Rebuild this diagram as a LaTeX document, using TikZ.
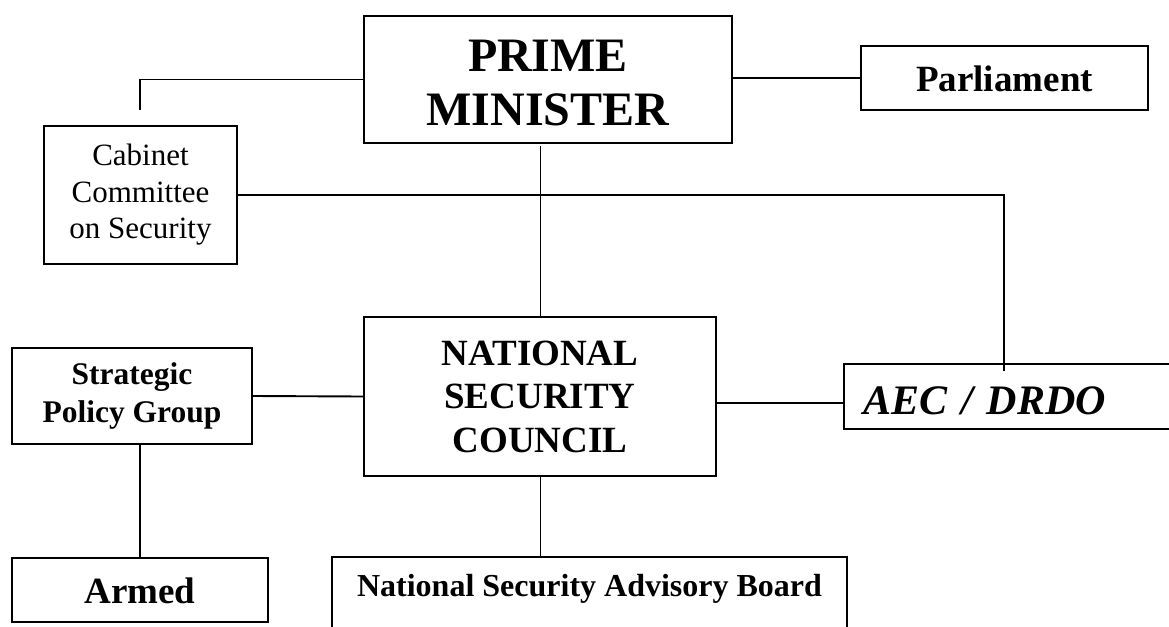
\documentclass[tikz,border=0pt]{standalone}
\usepackage{fontspec}
\setmainfont{Liberation Serif}
\begin{document}
\begin{tikzpicture}[x=1pt, y=-1pt,
  box/.style={draw, line width=1.6pt, inner sep=0pt, align=center},
  link/.style={line width=1.9pt}]
\useasboundingbox (0,0) rectangle (1169,626);

% top level
\node[box, minimum width=368pt, minimum height=127pt,
      font=\bfseries\fontsize{48}{54}\selectfont] (pm) at (548,79.5) {\rule{0pt}{38pt}PRIME\\MINISTER};
\node[box, minimum width=287pt, text height=46pt, text depth=18pt,
      font=\bfseries\fontsize{37}{42}\selectfont] (parl) at (1004.5,78) {Parliament};
\node[box, minimum width=193pt, minimum height=138pt,
      font=\fontsize{31}{36.5}\selectfont] (cab) at (140.5,195) {Cabinet\\Committee\\on Security};

% middle level
\node[box, minimum width=240pt, minimum height=96pt,
      font=\bfseries\fontsize{31.5}{38}\selectfont] (spg) at (132,396) {Strategic\\Policy Group};
\node[box, minimum width=352pt, minimum height=159pt,
      font=\bfseries\fontsize{37}{43.5}\selectfont] (nsc) at (540,396.5) {NATIONAL\\SECURITY\\COUNCIL};
\node[box, text width=298pt, inner xsep=19pt, align=left, text height=50pt, text depth=15pt,
      font=\bfseries\itshape\fontsize{42}{48}\selectfont] (aec) at (1012,396.5) {AEC / DRDO};

% bottom level
\node[box, minimum width=256pt, text height=45pt, text depth=19pt,
      font=\bfseries\fontsize{37}{42}\selectfont] (armed) at (140,590) {Armed};
\node[box, minimum width=515pt, text height=39pt, text depth=44pt,
      font=\bfseries\fontsize{32}{36}\selectfont] (nsab) at (589.5,598.5) {National Security Advisory Board};

% stub ends
\coordinate (cabstub) at (140,110);
\coordinate (aecpin) at (1004,371);
\coordinate (pmfoot) at (540.5,146);

% connectors
\draw[link] (pm.west) -| (cabstub);
\draw[link] (pm.east |- parl.west) -- (parl.west);
\draw[link] (pmfoot) -- (pmfoot |- nsc.north);
\draw[link] (cab.east) -| (aecpin);
\draw[link] (spg.east) -- (nsc.west);
\draw[link] ([yshift=-6.5pt]nsc.east) -- ([yshift=-6.5pt]nsc.east -| aec.west);
\draw[link] (pmfoot |- nsc.south) -- (pmfoot |- nsab.north);
\draw[link] (armed.north |- spg.south) -- (armed.north);
\end{tikzpicture}
\end{document}
